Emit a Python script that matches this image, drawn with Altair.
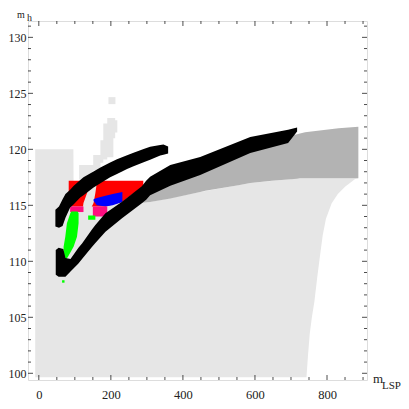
import altair as alt
import pandas as pd

# ---- axis ranges ----
X_MIN, X_MAX = -30, 911
Y_MIN, Y_MAX = 99.4, 131.46

# ---- light grey region (x, bottom, top) ----
lg_x  = [-10, 96, 96.5, 282, 309, 448, 587, 725, 743, 747, 752, 758, 765, 773, 781, 788, 797, 813, 830, 850, 878, 887]
lg_lo = [99.65, 99.65, 99.65, 99.65, 99.65, 99.65, 99.65, 99.65, 99.65, 101.5, 103.5, 105.0, 106.4, 108.6, 110.6, 112.3, 113.8, 115.18, 116.0, 116.66, 117.35, 117.41]
lg_hi = [120.0, 120.0, 117.0, 115.2, 115.3, 116.2, 117.0, 117.41, 117.41, 117.41, 117.41, 117.41, 117.41, 117.41, 117.41, 117.41, 117.41, 117.41, 117.41, 117.41, 117.41, 117.41]

# ---- dark grey band ----
dg_x  = [282, 309, 365, 448, 462, 554, 587, 647, 717, 725, 739, 832, 887]
dg_lo = [115.2, 115.3, 115.6, 116.2, 116.3, 116.8, 117.0, 117.2, 117.38, 117.41, 117.41, 117.41, 117.41]
dg_hi = [116.0, 116.5, 117.5, 118.6, 118.6, 119.95, 120.26, 120.83, 121.35, 121.42, 121.52, 121.88, 122.02]

# ---- stray light grey column above the red zone ----
sc_x  = [112, 151, 171, 179, 190, 207, 212, 218]
sc_lo = [117.3, 118.1, 118.8, 119.1, 119.3, 121.0, 121.5, 121.5]
sc_hi = [118.6, 119.5, 120.8, 122.3, 122.8, 122.8, 122.6, 122.6]
sq_x = [203]
sq_y = [124.35]

# ---- light grey strip through the red zone (y, left, right) ----
st_y  = [113.5, 114.3, 115.2, 116.1, 117.0, 117.25]
st_x1 = [112, 120, 124, 134, 143, 143]
st_x2 = [135, 138, 152, 157, 161, 165]

# ---- red zone ----
rd_x  = [83, 125, 157, 185, 231, 260, 290]
rd_lo = [114.9, 114.9, 114.9, 114.9, 115.3, 116.0, 116.6]
rd_hi = [117.2, 117.2, 117.2, 117.2, 117.2, 117.2, 117.2]

# ---- blue zone ----
bl_x  = [152, 161, 185, 205, 232]
bl_lo = [115.4, 115.0, 114.9, 115.0, 115.3]
bl_hi = [115.55, 115.65, 115.85, 116.0, 116.2]

# ---- magenta patches ----
mg_x1 = [87, 150]
mg_x2 = [124, 190]
mg_y1 = [114.4, 114.0]
mg_y2 = [114.9, 114.9]

# ---- green zone (y, left, right) ----
gr_y  = [110.1, 110.41, 111.3, 112.2, 113.39, 114.29, 114.45]
gr_x1 = [69, 68.8, 68.8, 73.5, 78, 87.4, 90]
gr_x2 = [74, 81, 96.5, 106, 110.4, 110.4, 108]
gp_x1 = [137]
gp_x2 = [157]
gp_y1 = [113.7]
gp_y2 = [114.1]
gd_x = [68]
gd_y = [108.2]

# ---- upper black band ----
ub_x  = [46, 56, 66, 74, 87, 97, 115, 124, 152, 171, 198, 217, 245, 263, 291, 309, 337, 346, 359]
ub_lo = [113.1, 113.0, 113.15, 113.9, 114.8, 115.1, 115.7, 115.9, 116.6, 116.97, 117.5, 117.8, 118.25, 118.48, 118.84, 119.08, 119.44, 119.52, 119.62]
ub_hi = [114.6, 114.9, 115.55, 116.0, 116.4, 116.75, 117.25, 117.5, 118.03, 118.38, 118.82, 119.12, 119.48, 119.7, 120.03, 120.23, 120.38, 120.43, 120.25]

# ---- lower black band ----
lb_x  = [47, 55, 68, 74, 88, 110, 120, 148, 157, 185, 231, 286, 298, 309, 365, 448, 587, 692, 717]
lb_lo = [108.8, 108.63, 108.63, 108.63, 109.1, 109.81, 110.2, 111.3, 111.63, 112.64, 113.84, 115.18, 115.5, 115.9, 116.75, 117.71, 119.67, 120.56, 121.6]
lb_hi = [111.0, 111.2, 111.1, 110.3, 110.2, 111.21, 111.6, 112.86, 113.25, 114.3, 115.32, 116.7, 117.2, 117.55, 118.6, 119.31, 121.1, 121.75, 121.95]

# ---- ticks ----
x_major = [0, 200, 400, 600, 800]
x_minor = [50, 100, 150, 250, 300, 350, 450, 500, 550, 650, 700, 750, 850, 900]
y_major = [100, 105, 110, 115, 120, 125, 130]
y_minor = [v for v in range(100, 132) if v % 5 != 0]

FONT = "Liberation Serif"
LG, DG = "#e6e6e6", "#b3b3b3"

xs = alt.Scale(domain=[X_MIN, X_MAX], nice=False, zero=False)
ys = alt.Scale(domain=[Y_MIN, Y_MAX], nice=False, zero=False)
xaxis = alt.Axis(values=x_major, format="d", ticks=False, tickSize=0, domain=False, grid=False,
                 labelFont=FONT, labelFontSize=12.5, labelPadding=8, labelColor="#222222", title=None)
yaxis = alt.Axis(values=y_major, format="d", ticks=False, tickSize=0, domain=False, grid=False,
                 labelFont=FONT, labelFontSize=12, labelPadding=2, labelColor="#222222", title=None)

def X(f):
    return alt.X(f, type="quantitative", scale=xs, axis=xaxis)

def Y(f):
    return alt.Y(f, type="quantitative", scale=ys, axis=yaxis)


def vband(xv, lo, hi, color, interp="linear"):
    df = pd.DataFrame({"x": xv, "lo": lo, "hi": hi})
    return alt.Chart(df).mark_area(color=color, orient="vertical", interpolate=interp, opacity=1).encode(
        x=X("x"), y=Y("lo"), y2="hi")


def hband(yv, x1, x2, color):
    df = pd.DataFrame({"y": yv, "x1": x1, "x2": x2})
    return alt.Chart(df).mark_area(color=color, orient="horizontal", opacity=1).encode(
        y=Y("y"), x=X("x1"), x2="x2")


def rects(x1, x2, y1, y2, color):
    df = pd.DataFrame({"x1": x1, "x2": x2, "y1": y1, "y2": y2})
    return alt.Chart(df).mark_rect(color=color).encode(x=X("x1"), x2="x2", y=Y("y1"), y2="y2")


def squares(xv, yv, color, size):
    df = pd.DataFrame({"x": xv, "y": yv})
    return alt.Chart(df).mark_square(color=color, size=size, opacity=1).encode(x=X("x"), y=Y("y"))


def xticks(vals, size):
    df = pd.DataFrame({"t": vals * 2, "e": [Y_MIN] * len(vals) + [Y_MAX] * len(vals)})
    return alt.Chart(df).mark_tick(orient="vertical", size=size, thickness=1, color="black", clip=True).encode(
        x=X("t"), y=Y("e"))


def yticks(vals, size):
    df = pd.DataFrame({"t": vals * 2, "e": [X_MIN] * len(vals) + [X_MAX] * len(vals)})
    return alt.Chart(df).mark_tick(orient="horizontal", size=size, thickness=1, color="black", clip=True).encode(
        y=Y("t"), x=X("e"))


def label(txt, px, py, size):
    df = pd.DataFrame({"t": [txt]})
    return alt.Chart(df).mark_text(font=FONT, fontSize=size, align="left", baseline="alphabetic",
                                   color="#222222").encode(text="t:N", x=alt.value(px), y=alt.value(py))


layers = [
    vband(lg_x, lg_lo, lg_hi, LG),
    vband(dg_x, dg_lo, dg_hi, DG),
    vband(sc_x, sc_lo, sc_hi, LG, interp="step-after"),
    squares(sq_x, sq_y, LG, 49),
    vband(rd_x, rd_lo, rd_hi, "#ff0000"),
    hband(st_y, st_x1, st_x2, LG),
    vband(bl_x, bl_lo, bl_hi, "#0000ff"),
    rects(mg_x1, mg_x2, mg_y1, mg_y2, "#ff0d80"),
    hband(gr_y, gr_x1, gr_x2, "#00ff00"),
    rects(gp_x1, gp_x2, gp_y1, gp_y2, "#00ff00"),
    squares(gd_x, gd_y, "#00ff00", 6),
    vband(ub_x, ub_lo, ub_hi, "black"),
    vband(lb_x, lb_lo, lb_hi, "black"),
    xticks(x_major, 10),
    xticks(x_minor, 6),
    yticks(y_major, 10),
    yticks(y_minor, 6),
    label("m", -11, -3.5, 10),
    label("h", -1, -0.5, 10),
    label("m", 345, 362, 13),
    label("LSP", 354, 368, 11),
]

chart = alt.layer(*layers).properties(
    width=339, height=359,
    autosize=alt.AutoSizeParams(type="none"),
    padding={"left": 20, "top": 13, "right": 34, "bottom": 21},
).configure_view(stroke="black", strokeWidth=1).configure(background="white")

chart.save("out.html", embed_options={"renderer": "svg", "actions": False})
